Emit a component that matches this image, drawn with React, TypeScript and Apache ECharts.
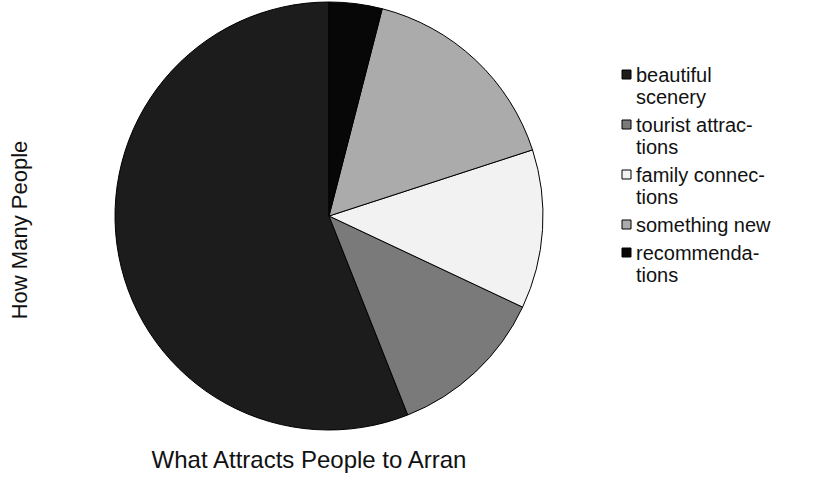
import React, { useEffect, useRef } from "react";
import * as echarts from "echarts";

const categories = ["beautiful scenery", "tourist attractions", "family connections", "something new", "recommendations"];
const legendLines = [
  ["beautiful", "scenery"],
  ["tourist attrac-", "tions"],
  ["family connec-", "tions"],
  ["something new"],
  ["recommenda-", "tions"],
];
const values = [56, 12, 12, 16, 4];
const colors = ["#1c1c1c", "#7a7a7a", "#f2f2f2", "#ababab", "#070707"];
const xTitle = "What Attracts People to Arran";
const yTitle = "How Many People";

export default function App() {
  const ref = useRef<HTMLDivElement>(null);
  useEffect(() => {
    if (!ref.current) return;
    const chart = echarts.init(ref.current, null, { renderer: "svg" });
    const font = "'Liberation Sans', Arial, sans-serif";
    const graphics: any[] = [];
    const lh = 22;
    let y = 75;
    legendLines.forEach((lines, i) => {
      graphics.push({
        type: "rect",
        shape: { x: 622, y: y - 5, width: 9, height: 9 },
        style: { fill: colors[i], stroke: "#000", lineWidth: 1 },
      });
      graphics.push({
        type: "text",
        x: 636,
        y: y - lh / 2,
        style: {
          text: lines.join("\n"),
          font: `20px ${font}`,
          fill: "#111",
          verticalAlign: "top",
          lineHeight: lh,
        },
      });
      y += lh * lines.length + 6;
    });
    graphics.push({
      type: "text",
      x: 19,
      y: 230,
      rotation: Math.PI / 2,
      style: { text: yTitle, font: `22px ${font}`, fill: "#111", align: "center", verticalAlign: "middle" },
    });
    graphics.push({
      type: "text",
      x: 309,
      y: 459,
      style: { text: xTitle, font: `24px ${font}`, fill: "#111", align: "center", verticalAlign: "middle" },
    });
    chart.setOption({
      animation: false,
      backgroundColor: "#fff",
      series: [
        {
          type: "pie",
          center: [329, 216],
          radius: 214,
          startAngle: 90,
          clockwise: false,
          label: { show: false },
          labelLine: { show: false },
          emphasis: { disabled: true },
          itemStyle: { borderColor: "#000", borderWidth: 1 },
          data: categories.map((c, i) => ({ name: c, value: values[i], itemStyle: { color: colors[i] } })),
        },
      ],
      graphic: graphics,
    });
    return () => chart.dispose();
  }, []);
  return <div ref={ref} style={{ position: "absolute", left: 0, top: 0, width: 816, height: 493 }} />;
}
